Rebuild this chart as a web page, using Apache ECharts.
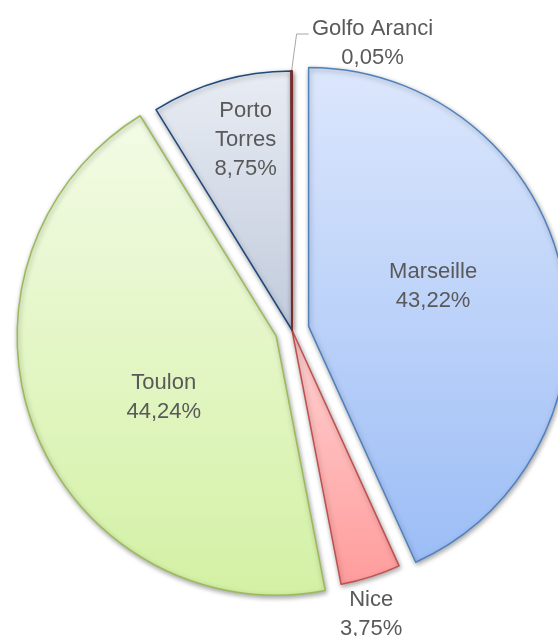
<!DOCTYPE html>
<html>
<head>
<meta charset="utf-8">
<script src="https://cdn.jsdelivr.net/npm/echarts@6/dist/echarts.min.js"></script>
<style>
  html, body { margin: 0; padding: 0; background: #fff; }
  #main { width: 558px; height: 636px; }
</style>
</head>
<body>
<div id="main"></div>
<script>
var names = ["Marseille", "Nice", "Toulon", "Porto Torres", "Golfo Aranci"];
var labelNames = ["Marseille", "Nice", "Toulon", "Porto\nTorres", "Golfo Aranci"];
var values = [43.22, 3.75, 44.24, 8.75, 0.05];
var exploded = [true, false, true, false, false];

var fills = [
  ["#dce7fc", "#9cbdf6"],
  ["#ffd2d2", "#ff9c9c"],
  ["#f3fbe6", "#d3f1a4"],
  ["#e8ecf3", "#c1cbdc"],
  ["#a04040", "#7a2626"]
];
var borders = ["#4f81bd", "#c0504d", "#9bbb59", "#1f497d", "#7b2c2a"];
// label nudges (px) so they sit where the original puts them
var labelShift = [
  { dx: -5, dy: -12 },
  { dx: -28, dy: 1, align: "center" },
  { dx: 11, dy: 13 },
  { dx: -10, dy: -63 },
  { dx: 98, dy: 10, align: "center" }
];

function grad(c) {
  return new echarts.graphic.LinearGradient(0, 0, 0, 1, [
    { offset: 0, color: c[0] },
    { offset: 1, color: c[1] }
  ]);
}

var data = [];
for (var i = 0; i < values.length; i++) {
  var outside = names[i] == "Nice" || names[i] == "Golfo Aranci";
  data.push({
    name: names[i],
    value: values[i],
    selected: exploded[i],
    itemStyle: {
      color: grad(fills[i]),
      borderColor: borders[i],
      borderWidth: names[i] == "Golfo Aranci" ? 2 : 1.5
    },
    label: {
      position: outside ? "outside" : "inside"
    },
    labelLine: {
      show: names[i] == "Golfo Aranci",
      length: 38,
      length2: 12,
      lineStyle: { color: "#a6a6a6", width: 1 }
    }
  });
}

var myChart = echarts.init(document.getElementById("main"));
var option = {
  animation: false,
  series: [
    {
      type: "pie",
      center: [292, 330],
      radius: [0, 259],
      startAngle: 90,
      clockwise: true,
      selectedMode: "multiple",
      selectedOffset: 17,
      avoidLabelOverlap: false,
      itemStyle: {
        shadowBlur: 5,
        shadowColor: "rgba(0,0,0,0.35)",
        shadowOffsetX: 1,
        shadowOffsetY: 2
      },
      label: {
        show: true,
        color: "#595959",
        fontFamily: "Liberation Sans",
        fontSize: 22,
        lineHeight: 29,
        align: "center",
        formatter: function(p) {
          return labelNames[p.dataIndex] + "\n" + p.value.toFixed(2).replace(".", ",") + "%";
        }
      },
      labelLayout: function(p) {
        var s = labelShift[p.dataIndex];
        if (p.dataIndex == 4 && p.labelLinePoints) {
          // leader goes up and bends right, like the original
          var a = p.labelLinePoints[0];
          var out = Object.assign({}, s);
          out.labelLinePoints = [
            [a[0], a[1]],
            [a[0] + 5, a[1] - 37],
            [a[0] + 17, a[1] - 37]
          ];
          return out;
        }
        return s;
      },
      emphasis: { disabled: true },
      data: data
    }
  ]
};
myChart.setOption(option);
</script>
</body>
</html>
